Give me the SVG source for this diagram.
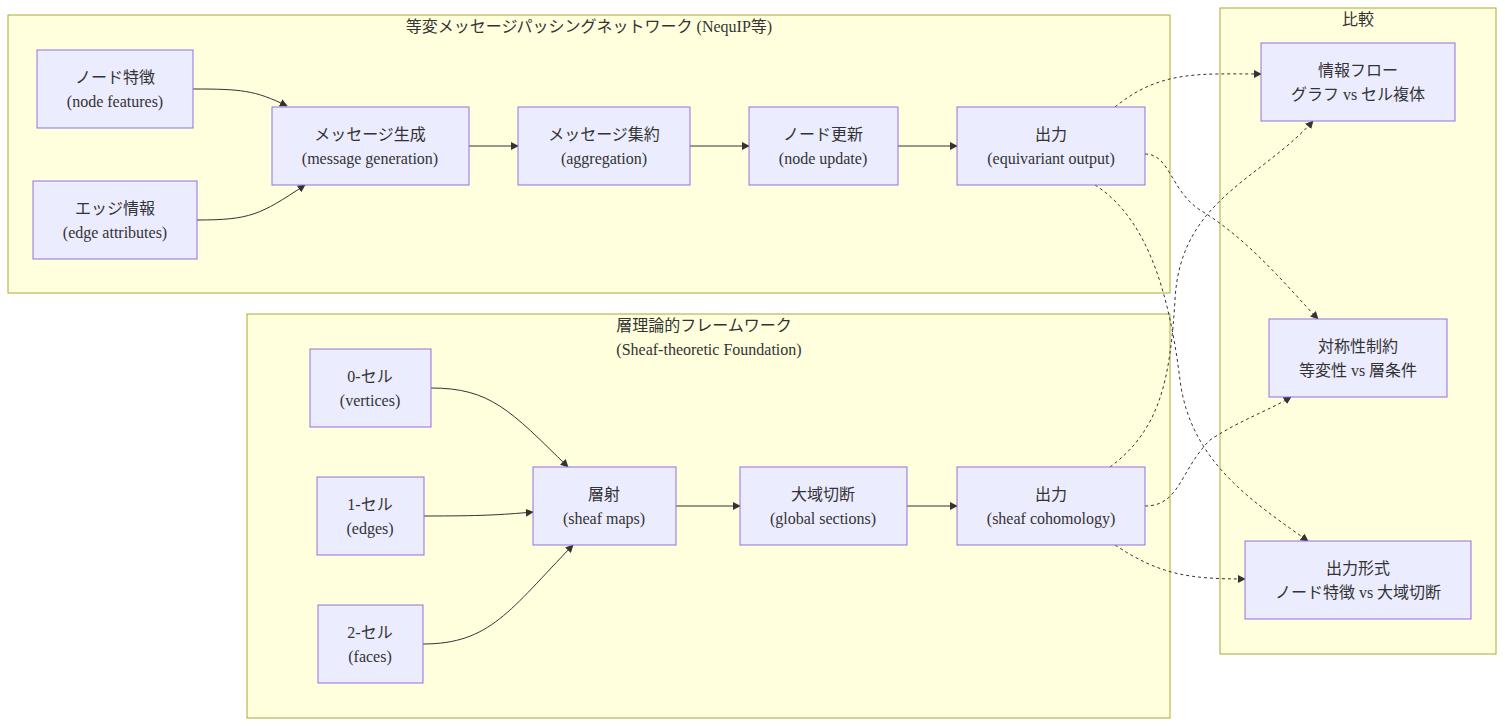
<svg xmlns="http://www.w3.org/2000/svg" width="1505" height="726" viewBox="0 0 1505 726">
<defs>
<style>
.cl{fill:#ffffde;stroke:#aaaa33;stroke-width:1}
.nd{fill:#ececff;stroke:#9370db;stroke-width:1}
text{font-family:"Liberation Serif","Noto Sans CJK JP",serif;font-size:16px;fill:#333;text-anchor:middle}
.e{fill:none;stroke:#333;stroke-width:1}
.d{stroke-dasharray:3 3}
</style>
<marker id="ar" viewBox="0 0 10 10" refX="9" refY="5" markerWidth="8" markerHeight="8" orient="auto"><path d="M0,0L10,5L0,10z" fill="#333"/></marker>
</defs>
<rect width="1505" height="726" fill="#fff"/>
<g id="clusters">
<rect class="cl" x="8" y="15" width="1162" height="278"/>
<text x="589" y="32">等変メッセージパッシングネットワーク (NequIP等)</text>
<rect class="cl" x="247" y="314" width="923" height="404"/>
<text x="704" y="331">層理論的フレームワーク</text>
<text x="709" y="355">(Sheaf-theoretic Foundation)</text>
<rect class="cl" x="1220" y="8" width="276" height="646"/>
<text x="1358" y="25">比較</text>
</g>
<g id="edges">
<path class="e" marker-end="url(#ar)" d="M193,89 C240,89 255,90 287,106"/>
<path class="e" marker-end="url(#ar)" d="M197,220 C250,220 260,215 305,185"/>
<path class="e" marker-end="url(#ar)" d="M469,146 L518,146"/>
<path class="e" marker-end="url(#ar)" d="M690,146 L749,146"/>
<path class="e" marker-end="url(#ar)" d="M898,146 L957,146"/>
<path class="e" marker-end="url(#ar)" d="M431,388 C490,388 510,410 568,467"/>
<path class="e" marker-end="url(#ar)" d="M424,516 C480,516 500,515 533,512"/>
<path class="e" marker-end="url(#ar)" d="M423,644 C490,644 510,610 573,545"/>
<path class="e" marker-end="url(#ar)" d="M676,506 L740,506"/>
<path class="e" marker-end="url(#ar)" d="M907,506 L957,506"/>
<path class="e d" marker-end="url(#ar)" d="M1115,107 C1160,70 1200,74 1261,74"/>
<path class="e d" marker-end="url(#ar)" d="M1145,154 C1170,154 1170,190 1200,210 C1250,240 1290,290 1318,319"/>
<path class="e d" marker-end="url(#ar)" d="M1095,185 C1150,220 1170,300 1180,380 C1190,460 1250,500 1308,541"/>
<path class="e d" marker-end="url(#ar)" d="M1110,467 C1160,430 1170,380 1175,300 C1180,200 1260,180 1313,121"/>
<path class="e d" marker-end="url(#ar)" d="M1145,506 C1180,506 1180,470 1210,440 C1240,420 1270,410 1291,397"/>
<path class="e d" marker-end="url(#ar)" d="M1115,545 C1160,575 1190,579 1245,579"/>
</g>
<g id="nA"><rect class="nd" x="37" y="50" width="156" height="78"/><text x="115" y="83">ノード特徴</text><text x="115" y="107">(node features)</text></g>
<g id="nB"><rect class="nd" x="33" y="181" width="164" height="78"/><text x="115" y="214">エッジ情報</text><text x="115" y="238">(edge attributes)</text></g>
<g id="nC"><rect class="nd" x="272" y="107" width="197" height="78"/><text x="370" y="140">メッセージ生成</text><text x="370" y="164">(message generation)</text></g>
<g id="nD"><rect class="nd" x="518" y="107" width="172" height="78"/><text x="604" y="140">メッセージ集約</text><text x="604" y="164">(aggregation)</text></g>
<g id="nE"><rect class="nd" x="749" y="107" width="149" height="78"/><text x="823" y="140">ノード更新</text><text x="823" y="164">(node update)</text></g>
<g id="nF"><rect class="nd" x="957" y="107" width="188" height="78"/><text x="1051" y="140">出力</text><text x="1051" y="164">(equivariant output)</text></g>
<g id="nG"><rect class="nd" x="310" y="349" width="121" height="78"/><text x="370" y="382">0-セル</text><text x="370" y="406">(vertices)</text></g>
<g id="nH"><rect class="nd" x="317" y="477" width="107" height="78"/><text x="370" y="510">1-セル</text><text x="370" y="534">(edges)</text></g>
<g id="nI"><rect class="nd" x="318" y="605" width="105" height="78"/><text x="370" y="638">2-セル</text><text x="370" y="662">(faces)</text></g>
<g id="nJ"><rect class="nd" x="533" y="467" width="143" height="78"/><text x="604" y="500">層射</text><text x="604" y="524">(sheaf maps)</text></g>
<g id="nK"><rect class="nd" x="740" y="467" width="167" height="78"/><text x="823" y="500">大域切断</text><text x="823" y="524">(global sections)</text></g>
<g id="nL"><rect class="nd" x="957" y="467" width="188" height="78"/><text x="1051" y="500">出力</text><text x="1051" y="524">(sheaf cohomology)</text></g>
<g id="nM"><rect class="nd" x="1261" y="43" width="194" height="78"/><text x="1358" y="76">情報フロー</text><text x="1358" y="100">グラフ vs セル複体</text></g>
<g id="nN"><rect class="nd" x="1269" y="319" width="178" height="78"/><text x="1358" y="352">対称性制約</text><text x="1358" y="376">等変性 vs 層条件</text></g>
<g id="nO"><rect class="nd" x="1245" y="541" width="226" height="78"/><text x="1358" y="574">出力形式</text><text x="1358" y="598">ノード特徴 vs 大域切断</text></g>
</svg>
